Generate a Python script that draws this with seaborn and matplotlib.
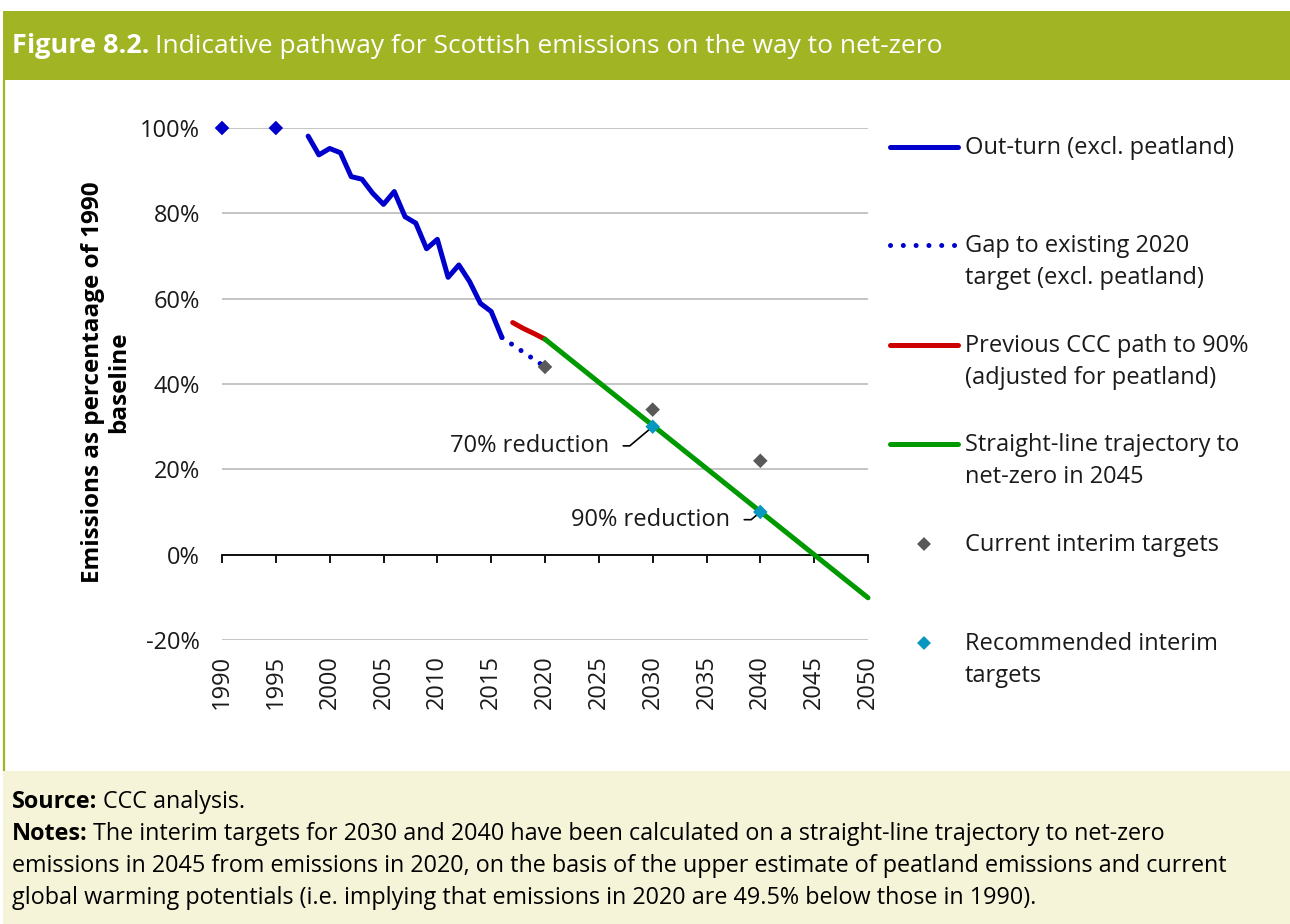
import matplotlib
matplotlib.use("Agg")
import matplotlib.pyplot as plt
from matplotlib.lines import Line2D
from matplotlib.patches import Rectangle
import seaborn as sns

sns.set_theme(style="white")
plt.rcParams["font.family"] = ["Open Sans", "DejaVu Sans"]

# ---- data (% of 1990 emissions) ----
baseline_years = [1990, 1995]
baseline_values = [100, 100]

outturn_years = [1998, 1999, 2000, 2001, 2002, 2003, 2004, 2005, 2006, 2007,
                 2008, 2009, 2010, 2011, 2012, 2013, 2014, 2015, 2016]
outturn_values = [98.1, 93.7, 95.2, 94.2, 88.6, 88.0, 84.7, 82.1, 85.1, 79.2,
                  77.7, 71.7, 73.9, 65.0, 67.9, 64.0, 58.9, 57.0, 50.9]

gap_years = [2016, 2020]
gap_values = [50.9, 44.0]

previous_years = [2017, 2018, 2019, 2020]
previous_values = [54.4, 53.0, 51.8, 50.5]

trajectory_years = [2020, 2050]
trajectory_values = [50.5, -10.1]

current_target_years = [2020, 2030, 2040]
current_target_values = [44, 34, 22]

recommended_years = [2030, 2040]
recommended_values = [30, 10]
recommended_labels = ["70% reduction", "90% reduction"]

x_ticks = list(range(1990, 2051, 5))
y_ticks = [-20, 0, 20, 40, 60, 80, 100]

legend_labels = [
    ["Out-turn (excl. peatland)"],
    ["Gap to existing 2020", "target (excl. peatland)"],
    ["Previous CCC path to 90%", "(adjusted for peatland)"],
    ["Straight-line trajectory to", "net-zero in 2045"],
    ["Current interim targets"],
    ["Recommended interim", "targets"],
]

BLUE = "#0000CC"
RED = "#CC0000"
GREEN = "#009900"
GREY = "#595959"
TEAL = "#0897BF"
OLIVE = "#A0B424"
CREAM = "#F6F4D8"
INK = "#1a1a1a"

W, H = 1290, 924
fig = plt.figure(figsize=(W / 100, H / 100), dpi=100)
fig.patch.set_facecolor("white")


def fx(px):
    return px / W


def fy(py):
    return 1 - py / H


# ---- frame: header band, left rule, notes panel ----
fig.patches.append(Rectangle((fx(3), fy(80)), 1 - fx(3), fy(11) - fy(80),
                             transform=fig.transFigure, facecolor=OLIVE,
                             edgecolor="none", zorder=-2))
fig.lines.append(Line2D([fx(4), fx(4)], [fy(80), fy(771)],
                        transform=fig.transFigure, color=OLIVE, lw=1.6,
                        zorder=-2))
fig.patches.append(Rectangle((fx(3), 0), 1 - fx(3), fy(771),
                             transform=fig.transFigure, facecolor=CREAM,
                             edgecolor="none", zorder=-2))

# ---- main axes ----
ax = fig.add_axes([fx(222), fy(640), fx(868) - fx(222), fy(128) - fy(640)])
ax.set_facecolor("none")

lw = 3.6
sns.lineplot(x=outturn_years, y=outturn_values, ax=ax, color=BLUE, lw=lw,
             solid_capstyle="round", solid_joinstyle="round", zorder=3)
sns.lineplot(x=gap_years, y=gap_values, ax=ax, color=BLUE, lw=lw,
             linestyle=(0, (0.01, 2.3)), dash_capstyle="round", zorder=3)
sns.lineplot(x=previous_years, y=previous_values, ax=ax, color=RED, lw=lw,
             solid_capstyle="round", zorder=3)
sns.lineplot(x=trajectory_years, y=trajectory_values, ax=ax, color=GREEN,
             lw=lw, solid_capstyle="round", zorder=3, clip_on=False)

sns.scatterplot(x=baseline_years, y=baseline_values, ax=ax, marker="D", s=55,
                color=BLUE, edgecolor="none", zorder=5, clip_on=False)
sns.scatterplot(x=current_target_years, y=current_target_values, ax=ax,
                marker="D", s=55, color=GREY, edgecolor="none", zorder=5)
sns.scatterplot(x=recommended_years, y=recommended_values, ax=ax, marker="D",
                s=55, color=TEAL, edgecolor="none", zorder=6)

# leader-line labels for the recommended targets
label_offsets = [(-4.07, -4.5), (-2.83, -1.8)]
for yr, val, txt, (dx, dy) in zip(recommended_years, recommended_values,
                                  recommended_labels, label_offsets):
    ax.annotate(txt, xy=(yr, val), xytext=(yr + dx, val + dy),
                ha="right", va="center", fontsize=17, color=INK,
                arrowprops=dict(arrowstyle="-", color="black", lw=1.2,
                                connectionstyle="angle,angleA=0,angleB=40,rad=0",
                                relpos=(1, 0.5), shrinkA=8, shrinkB=0),
                zorder=4)

ax.set_xlim(1990, 2050)
ax.set_ylim(-20, 100)
ax.set_yticks(y_ticks)
ax.set_yticklabels([f"{v}%" for v in y_ticks])
ax.set_xticks(x_ticks)
ax.yaxis.grid(True, color="#BFBFBF", lw=1.3)
ax.xaxis.grid(False)
for side in ["left", "right", "top"]:
    ax.spines[side].set_visible(False)
ax.spines["bottom"].set_position(("data", 0))
ax.spines["bottom"].set_color("black")
ax.spines["bottom"].set_linewidth(1.3)
ax.spines["bottom"].set_zorder(2.5)
ax.tick_params(axis="x", direction="out", length=5.5, width=1.3,
               color="black", bottom=True, labelbottom=False)
ax.tick_params(axis="y", length=0, pad=16, labelsize=17, labelcolor=INK)

sec = ax.secondary_xaxis(0)
sec.set_xticks(x_ticks)
sec.tick_params(length=0, pad=11, labelsize=17, labelrotation=90,
                labelcolor=INK)
sec.spines["bottom"].set_visible(False)

ax.set_ylabel("Emissions as percentaage of 1990\nbaseline", fontsize=17.5,
              fontweight="bold", color="black", linespacing=1.15)
ax.yaxis.label.set_va("center")
ax.yaxis.set_label_coords((106 - 222) / 646, (640 - 382) / 512)

# ---- overlay in pixel space for header text, legend and notes ----
ov = fig.add_axes([0, 0, 1, 1], zorder=10)
ov.set_xlim(0, W)
ov.set_ylim(H, 0)
ov.axis("off")
ov.patch.set_alpha(0)

title_bold = ov.text(12, 46, "Figure 8.2.", color="white", fontsize=19.5,
                     fontweight="bold", va="center", ha="left")
ov.annotate("Indicative pathway for Scottish emissions on the way to net-zero",
            xy=(1, 0), xycoords=title_bold, xytext=(4, 0),
            textcoords="offset points", va="bottom", ha="left",
            color="white", fontsize=19)

rows = [147, 245, 345, 444, 544, 643]
ov.plot([890, 958], [rows[0]] * 2, color=BLUE, lw=lw, solid_capstyle="round")
ov.plot([890, 956], [rows[1]] * 2, color=BLUE, lw=lw,
        linestyle=(0, (0.01, 2.55)), dash_capstyle="round")
ov.plot([890, 958], [rows[2]] * 2, color=RED, lw=lw, solid_capstyle="round")
ov.plot([890, 958], [rows[3]] * 2, color=GREEN, lw=lw, solid_capstyle="round")
ov.scatter([924], [rows[4]], marker="D", s=50, color=GREY, edgecolor="none")
ov.scatter([924], [rows[5]], marker="D", s=50, color=TEAL, edgecolor="none")
for r, lines in zip(rows, legend_labels):
    for i, line in enumerate(lines):
        ov.text(965, r + 7 + 32 * i, line, fontsize=17, ha="left",
                va="baseline", color=INK)

NOTE_FS = 16.8
src = ov.text(12, 808, "Source:", fontsize=NOTE_FS, fontweight="bold",
              ha="left", va="baseline", color="black")
ov.annotate("CCC analysis.", xy=(1, 0), xycoords=src, xytext=(4, 0),
            textcoords="offset points", va="bottom", ha="left",
            fontsize=NOTE_FS, color="black")
nts = ov.text(12, 840, "Notes:", fontsize=NOTE_FS, fontweight="bold",
              ha="left", va="baseline", color="black")
ov.annotate("The interim targets for 2030 and 2040 have been calculated on a "
            "straight-line trajectory to net-zero",
            xy=(1, 0), xycoords=nts, xytext=(4, 0), textcoords="offset points",
            va="bottom", ha="left", fontsize=NOTE_FS, color="black")
ov.text(12, 872, "emissions in 2045 from emissions in 2020, on the basis of "
        "the upper estimate of peatland emissions and current",
        fontsize=NOTE_FS, ha="left", va="baseline", color="black")
ov.text(12, 904, "global warming potentials (i.e. implying that emissions in "
        "2020 are 49.5% below those in 1990).",
        fontsize=NOTE_FS, ha="left", va="baseline", color="black")

fig.savefig("out.png", dpi=100, facecolor="white")
